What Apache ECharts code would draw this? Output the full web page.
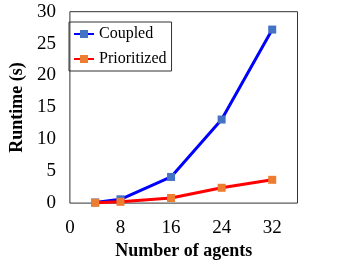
<!DOCTYPE html>
<html>
<head>
<meta charset="utf-8">
<script src="https://cdn.jsdelivr.net/npm/echarts@6/dist/echarts.min.js"></script>
<style>
html,body{margin:0;padding:0;background:#fff;}
#c{width:341px;height:265px;}
</style>
</head>
<body>
<div id="c"></div>
<script>
const agents = [4, 8, 16, 24, 32];
const coupled = [0.1, 0.6, 4.1, 13.1, 27.2];
const prioritized = [0.05, 0.2, 0.8, 2.4, 3.65];
const xTicks = [0, 8, 16, 24, 32];
const seriesNames = ['Coupled', 'Prioritized'];

const font = 'Liberation Serif, Times New Roman, serif';
const chart = echarts.init(document.getElementById('c'), null, {renderer: 'canvas'});
chart.setOption({
  animation: false,
  backgroundColor: '#fff',
  grid: {left: 61, right: 43.5, top: 11.7, bottom: 60.5, show: true, borderColor: '#333', borderWidth: 1, backgroundColor: 'transparent'},
  legend: {
    orient: 'vertical',
    left: 69, top: 22,
    padding: [4, 5, 4, 4],
    borderColor: '#333', borderWidth: 1,
    itemWidth: 20, itemHeight: 10, itemGap: 9,
    textStyle: {fontFamily: font, fontSize: 16, color: '#000', lineHeight: 16},
    data: seriesNames
  },
  xAxis: {
    type: 'value', min: 0, max: 36, interval: 8,
    name: 'Number of agents', nameLocation: 'middle', nameGap: 38,
    nameTextStyle: {fontFamily: font, fontSize: 18, fontWeight: 'bold', color: '#000'},
    axisLine: {show: false}, axisTick: {show: false}, splitLine: {show: false},
    axisLabel: {fontFamily: font, fontSize: 19, color: '#000', margin: 15,
      formatter: v => xTicks.indexOf(v) >= 0 ? String(v) : ''}
  },
  yAxis: {
    type: 'value', min: 0, max: 30, interval: 5,
    name: 'Runtime (s)', nameLocation: 'middle', nameGap: 37,
    nameTextStyle: {fontFamily: font, fontSize: 18, fontWeight: 'bold', color: '#000'},
    axisLine: {show: false}, axisTick: {show: false}, splitLine: {show: false},
    axisLabel: {fontFamily: font, fontSize: 19, color: '#000', margin: 14}
  },
  series: [
    {name: seriesNames[0], type: 'line', data: agents.map((a, i) => [a, coupled[i]]),
     symbol: 'rect', symbolSize: 8, lineStyle: {color: '#0000ff', width: 3},
     itemStyle: {color: '#4472c4'}, z: 2},
    {name: seriesNames[1], type: 'line', data: agents.map((a, i) => [a, prioritized[i]]),
     symbol: 'rect', symbolSize: 8, lineStyle: {color: '#ff0000', width: 3},
     itemStyle: {color: '#ed7d31'}, z: 3}
  ]
});
</script>
</body>
</html>
